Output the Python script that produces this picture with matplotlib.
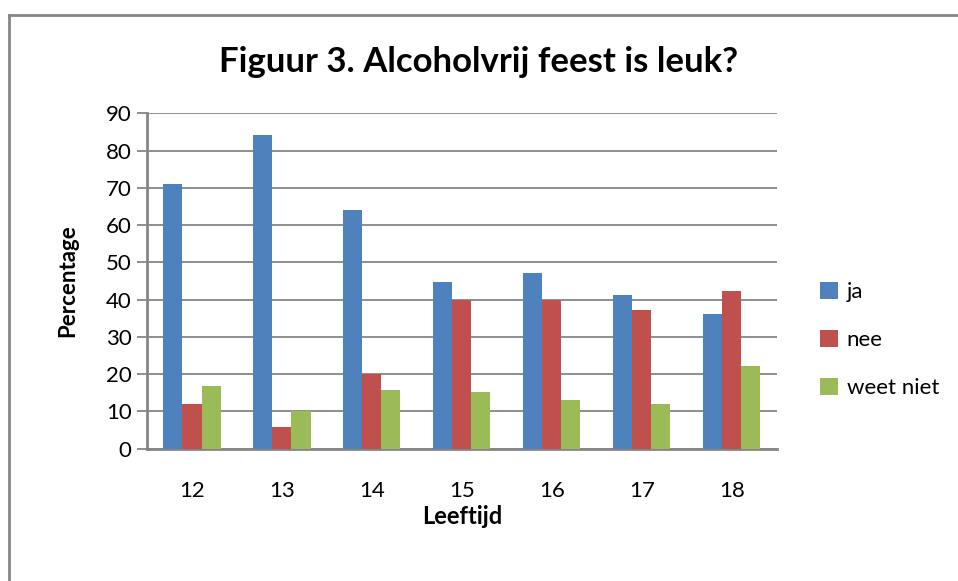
import matplotlib.pyplot as plt
import numpy as np
from matplotlib.patches import Patch
from matplotlib.lines import Line2D

leeftijd = ["12", "13", "14", "15", "16", "17", "18"]
ja = [71, 84.2, 64, 44.8, 47.1, 41.2, 36.1]
nee = [12, 5.8, 20, 39.9, 40, 37.1, 42.2]
weet_niet = [16.8, 10.1, 15.7, 15.3, 13.2, 12.1, 22.1]

series = [("ja", ja, "#4f81bd"), ("nee", nee, "#c0504d"), ("weet niet", weet_niet, "#9bbb59")]
grey = "#868686"

plt.rcParams['font.family'] = ['Lato', 'DejaVu Sans']

fig = plt.figure(figsize=(9.58, 5.81), dpi=100)
ax = fig.add_axes([147 / 958, 1 - 448.7 / 581, (776.7 - 147) / 958, (448.7 - 113.3) / 581])

x = np.arange(len(leeftijd))
w = 0.212
for i, (name, vals, col) in enumerate(series):
    ax.bar(x + (i - 1) * w, vals, width=w, color=col, label=name, zorder=3)

ax.set_xlim(-0.5, len(leeftijd) - 0.5)
ax.set_ylim(0, 90)
ax.set_yticks(range(0, 91, 10))
ax.set_xticks(x)
ax.set_xticklabels(leeftijd)
ax.yaxis.grid(True, color=grey, linewidth=1.3, zorder=0)
for s in ["top", "right"]:
    ax.spines[s].set_visible(False)
for s in ["left", "bottom"]:
    ax.spines[s].set_color(grey)
    ax.spines[s].set_linewidth(2)
ax.tick_params(axis="y", length=7, width=1.3, color=grey, labelsize=16, pad=4)
ax.tick_params(axis="x", length=0, labelsize=16, pad=23)

ax.set_ylabel("Percentage", fontsize=16, fontweight="bold", labelpad=20)
ax.set_xlabel("Leeftijd", fontsize=17, fontweight="bold", labelpad=3)
fig.text(0.5, 1 - 62 / 581, "Figuur 3. Alcoholvrij feest is leuk?", ha="center", va="center",
         fontsize=25, fontweight="bold")

handles = [Patch(facecolor=c, label=n) for n, _, c in series]
fig.legend(handles=handles, loc="center left", bbox_to_anchor=(800 / 958, 1 - 340 / 581),
           frameon=False, fontsize=16, labelspacing=1.25, handlelength=0.8, handleheight=0.8,
           handletextpad=0.4)

fig.add_artist(Line2D([9 / 958, 9 / 958], [0, 1 - 15 / 581], color=grey, linewidth=2))
fig.add_artist(Line2D([9 / 958, 1], [1 - 15 / 581, 1 - 15 / 581], color=grey, linewidth=2))

plt.savefig("out.png")
